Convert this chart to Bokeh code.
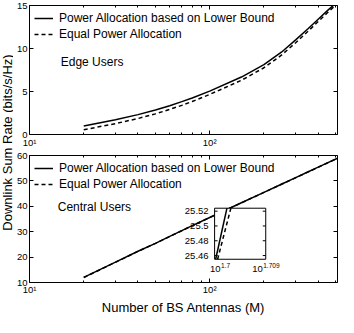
import math
from bokeh.plotting import figure
from bokeh.layouts import row, column
from bokeh.models import (Range1d, FixedTicker, LogAxis, LinearAxis, Legend, LegendItem,
                          Label, CustomJSTickFormatter)
from bokeh.embed import file_html
from bokeh.resources import INLINE
from bokeh.core.properties import value

# ---------------- data ----------------
M = [20, 30, 40, 50, 60, 70, 80, 100, 150, 200, 250, 300, 350, 400, 450, 512]
edge_lb = [1.0, 1.72, 2.31, 2.85, 3.35, 3.82, 4.25, 5.04, 6.68, 8.12, 9.57, 11.0, 12.27, 13.40, 14.40, 15.45]
edge_eq = [0.55, 1.27, 1.86, 2.40, 2.92, 3.39, 3.84, 4.66, 6.30, 7.76, 9.22, 10.67, 11.97, 13.13, 14.16, 15.24]
central_lb = [12.0, 18.0, 22.3, 25.41, 28.15, 30.4, 32.4, 35.6, 41.4, 45.5, 48.7, 51.3, 53.5, 55.4, 57.1, 58.9]
central_eq = [11.95, 17.96, 22.27, 25.40, 28.14, 30.38, 32.38, 35.57, 41.36, 45.46, 48.66, 51.26, 53.46, 55.36, 57.06, 58.86]

# zoomed view (inset)
inset_m_lb = [50.14, 50.37]
inset_lb = [25.455, 25.524]
inset_m_eq = [50.18, 50.45]
inset_eq = [25.455, 25.524]

series_labels = ["Power Allocation based on Lower Bound", "Equal Power Allocation"]
panel_titles = ["Edge Users", "Central Users"]

x_major = [10, 100]
x_major_labels = ["10\u00b9", "10\u00b2"]
x_minor = [20, 30, 40, 50, 60, 70, 80, 90, 200, 300, 400, 500]
edge_yticks = [0, 5, 10, 15]
central_yticks = [10, 20, 30, 40, 50, 60]

inset_xlim = [10 ** 1.7, 10 ** 1.709]
inset_ylim = [25.455, 25.524]
inset_yticks = [25.46, 25.48, 25.5, 25.52]
inset_ytick_labels = ["25.46", "25.48", "25.5", "25.52"]
inset_xticks = [10 ** 1.7, 10 ** 1.709]
inset_xexps = ["1.7", "1.709"]

x_title = "Number of BS Antennas (M)"
y_title = "Downlink Sum Rate (bits/s/Hz)"

FONT = "Liberation Sans"

# ---------------- layout constants ----------------
PW = 325
BL, BR = 13, 1
TOP_H, TOP_BT, TOP_BB = 150, 5, 14
BOT_H, BOT_BT, BOT_BB = 167, 5, 30
FW = PW - BL - BR
IFX0, IFX1 = 0.601, 0.767
IFY0, IFY1 = 0.183, 0.585


def style_axis(ax, ticks, minor=None, labels=True, formatter=None, tick_in=4, standoff=2):
    ax.axis_label = None
    ax.ticker = FixedTicker(ticks=ticks, minor_ticks=minor or [])
    ax.axis_line_color = None
    ax.major_tick_in = tick_in
    ax.major_tick_out = 0
    ax.minor_tick_in = 2
    ax.minor_tick_out = 0
    ax.major_tick_line_color = "black"
    ax.minor_tick_line_color = "black"
    ax.major_label_text_font = FONT
    ax.major_label_text_color = "black"
    if labels:
        ax.major_label_text_font_size = "9.5px"
        ax.major_label_standoff = standoff
        if formatter is not None:
            ax.formatter = formatter
    else:
        ax.major_label_text_font_size = "1px"
        ax.major_label_standoff = 0
        ax.formatter = CustomJSTickFormatter(code="return '';")


def x_formatter():
    return CustomJSTickFormatter(
        args=dict(vals=x_major, labs=x_major_labels),
        code="for (let i = 0; i < vals.length; i++) { if (Math.abs(vals[i] - tick) < 1e-6 * vals[i]) return labs[i]; } return '';")


def make_panel(height, b_top, b_bottom, yr, yticks, lb, eq, title, title_xy):
    p = figure(width=PW, height=height, x_axis_type="log", x_range=Range1d(10, 512),
               y_range=Range1d(*yr), output_backend="svg", toolbar_location=None,
               min_border_left=BL, min_border_right=BR, min_border_top=b_top,
               min_border_bottom=b_bottom)
    p.grid.visible = False
    p.outline_line_color = "black"
    p.outline_line_width = 1
    p.border_fill_alpha = 0
    p.background_fill_color = "white"
    xb = p.below[0]
    yleft = p.left[0]
    style_axis(xb, x_major, x_minor, True, x_formatter(), standoff=2)
    style_axis(yleft, yticks, None, True, standoff=2)
    ax_top = LogAxis()
    p.add_layout(ax_top, "above")
    style_axis(ax_top, x_major, x_minor, False)
    ax_right = LinearAxis()
    p.add_layout(ax_right, "right")
    style_axis(ax_right, yticks, None, False)

    r1 = p.line(M, lb, line_color="black", line_width=1.5)
    r2 = p.line(M, eq, line_color="black", line_width=1.5, line_dash="4 3")
    leg = Legend(items=[LegendItem(label=series_labels[0], renderers=[r1]),
                        LegendItem(label=series_labels[1], renderers=[r2])],
                 location="top_left", margin=0, padding=5, spacing=0,
                 glyph_width=19, glyph_height=16, label_height=16, label_standoff=6,
                 label_text_font=FONT, label_text_font_size="12px", label_text_color="black",
                 border_line_alpha=0, background_fill_alpha=0)
    p.add_layout(leg)
    p.add_layout(Label(x=title_xy[0], y=title_xy[1], text=title, text_font=FONT,
                       text_font_size="12px", text_baseline="middle", text_align="left",
                       text_color="black"))
    return p, xb


top, _ = make_panel(TOP_H, TOP_BT, TOP_BB, (0, 15), edge_yticks, edge_lb, edge_eq,
                    panel_titles[0], (14.9, 8.4))
bot, bot_x = make_panel(BOT_H, BOT_BT, BOT_BB, (10, 60), central_yticks, central_lb, central_eq,
                        panel_titles[1], (14.35, 39.6))
bot_x.axis_label = x_title
bot_x.axis_label_text_font = FONT
bot_x.axis_label_text_font_size = "13px"
bot_x.axis_label_text_font_style = "normal"
bot_x.axis_label_text_color = "black"
bot_x.axis_label_standoff = 2
bot_x.major_label_standoff = 1

# ---------------- inset drawn inside the lower panel ----------------
lx0, lx1 = math.log10(inset_xlim[0]), math.log10(inset_xlim[1])
xspan = (lx1 - lx0) / (IFX1 - IFX0)
xs = lx0 - IFX0 * xspan
yspan = (inset_ylim[1] - inset_ylim[0]) / (IFY1 - IFY0)
ys = inset_ylim[0] - IFY0 * yspan
bot.extra_x_ranges = {"inset": Range1d(10 ** xs, 10 ** (xs + xspan))}
bot.extra_y_ranges = {"inset": Range1d(ys, ys + yspan)}
kw = dict(x_range_name="inset", y_range_name="inset")

bot.quad(left=[inset_xlim[0]], right=[inset_xlim[1]], bottom=[inset_ylim[0]], top=[inset_ylim[1]],
         fill_color="white", line_color="black", line_width=1, **kw)
tick_dx = 3 * xspan / FW
bot.segment(x0=[inset_xlim[0]] * 4, x1=[10 ** (lx0 + tick_dx)] * 4, y0=inset_yticks, y1=inset_yticks,
            line_color="black", line_width=1, **kw)
bot.segment(x0=[inset_xlim[1]] * 4, x1=[10 ** (lx1 - tick_dx)] * 4, y0=inset_yticks, y1=inset_yticks,
            line_color="black", line_width=1, **kw)
bot.line(inset_m_lb, inset_lb, line_color="black", line_width=1.5, **kw)
bot.line(inset_m_eq, inset_eq, line_color="black", line_width=1.5, line_dash="4 3", **kw)
bot.text(x=[inset_xlim[0]] * 4, y=inset_yticks, text=inset_ytick_labels, x_offset=-6,
         text_align="right", text_baseline="middle", text_font=value(FONT),
         text_font_size="9.5px", text_color="black", **kw)
label_dx = [6, -3]
bot.text(x=inset_xticks, y=[inset_ylim[0]] * 2, text=["10", "10"], x_offset=label_dx, y_offset=10,
         text_align="right", text_baseline="middle", text_font=value(FONT),
         text_font_size="9.5px", text_color="black", **kw)
bot.text(x=inset_xticks, y=[inset_ylim[0]] * 2, text=inset_xexps, x_offset=[d + 0.5 for d in label_dx],
         y_offset=6, text_align="left", text_baseline="middle", text_font=value(FONT),
         text_font_size="6.5px", text_color="black", **kw)

# ---------------- y title strip ----------------
YL_W = 13
YL_H = TOP_H + BOT_H
yl = figure(width=YL_W, height=YL_H, x_range=Range1d(-1, 1), y_range=Range1d(0, YL_H),
            output_backend="svg", toolbar_location=None, min_border=0,
            x_axis_type=None, y_axis_type=None)
yl.grid.visible = False
yl.outline_line_color = None
yl.border_fill_alpha = 0
yl.background_fill_alpha = 0
yl.text(x=[0], y=[YL_H - 142], text=[y_title], angle=math.pi / 2, text_align="center",
        text_baseline="middle", text_font=value(FONT), text_font_size="13px", text_color="black")

layout = row(yl, column(top, bot, spacing=0), spacing=0)

open("out.html", "w").write(file_html(layout, INLINE))
